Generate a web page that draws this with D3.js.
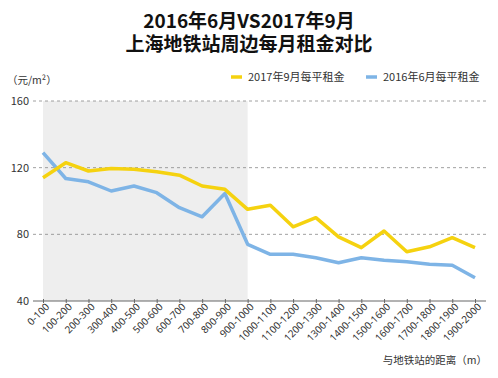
<!DOCTYPE html>
<html>
<head>
<meta charset="utf-8">
<script src="https://cdn.jsdelivr.net/npm/d3@7"></script>
<style>
  body { margin: 0; background: #fff; }
  svg { display: block; font-family: "Noto Sans CJK SC", "Noto Sans", sans-serif; }
</style>
</head>
<body>
<svg id="chart" width="498" height="378"></svg>
<script>
// 距离分组
const categories = ["0-100", "100-200", "200-300", "300-400", "400-500", "500-600", "600-700",
  "700-800", "800-900", "900-1000", "1000-1100", "1100-1200", "1200-1300", "1300-1400",
  "1400-1500", "1500-1600", "1600-1700", "1700-1800", "1800-1900", "1900-2000"];

// 2017年9月每平租金
const rent2017 = [114, 123, 118, 119.5, 119, 117.5, 115.5, 109, 107, 95,
  97.5, 84.5, 90, 78.5, 72, 82, 69.5, 72.5, 78, 72];

// 2016年6月每平租金
const rent2016 = [129, 113.5, 111.5, 106, 109, 105, 96, 90.5, 104.5, 74,
  68, 68, 66, 63, 66, 64.5, 63.5, 62, 61.5, 54];

const yTicks = [40, 80, 120, 160];
const shadeEnd = "900-1000";
const titleLines = ["2016年6月VS2017年9月", "上海地铁站周边每月租金对比"];

const svg = d3.select("#chart");
const plotLeft = 33, plotRight = 486, plotTop = 101, plotBottom = 301;

const x = d3.scalePoint().domain(categories).range([43, 475]);
const y = d3.scaleLinear().domain([40, 160]).range([plotBottom, plotTop]);

// 标题（两行放在同一个text里）
const title = svg.append("text")
  .attr("x", 249).attr("y", 28)
  .attr("text-anchor", "middle")
  .style("font-size", "19px").style("font-weight", "bold").attr("fill", "#111");
title.selectAll("tspan")
  .data(titleLines)
  .enter()
  .append("tspan")
  .attr("x", 249)
  .attr("dy", (d, i) => (i === 0 ? 0 : 23))
  .text((d) => d);

// 灰色背景区域
svg.append("rect")
  .attr("x", x(categories[0]))
  .attr("y", y(160))
  .attr("width", x(shadeEnd) - x(categories[0]))
  .attr("height", y(40) - y(160))
  .attr("fill", "#eeeeee");

// 网格线
svg.append("g")
  .selectAll("line")
  .data(yTicks.filter((d) => d > 40))
  .enter()
  .append("line")
  .attr("x1", plotLeft).attr("x2", plotRight)
  .attr("y1", (d) => y(d)).attr("y2", (d) => y(d))
  .attr("stroke", "#888")
  .attr("stroke-width", 0.8)
  .attr("stroke-dasharray", "3,3");

// y轴标签
svg.append("g")
  .selectAll("text")
  .data(yTicks)
  .enter()
  .append("text")
  .attr("x", 29)
  .attr("y", (d) => y(d) + 4)
  .attr("text-anchor", "end")
  .style("font-size", "11px")
  .attr("fill", "#333")
  .text((d) => d);

svg.append("text")
  .attr("x", 7).attr("y", 84)
  .style("font-size", "10.5px").attr("fill", "#333")
  .text("（元/m²）");

// x轴
const xAxis = svg.append("g")
  .attr("transform", `translate(0,${plotBottom})`)
  .call(d3.axisBottom(x).tickSize(4).tickSizeOuter(0).tickPadding(3));
xAxis.select(".domain").remove();
xAxis.insert("line", ":first-child")
  .attr("x1", plotLeft).attr("x2", plotRight)
  .attr("stroke", "#666").attr("stroke-width", 1);
xAxis.selectAll(".tick line").attr("stroke", "#666").attr("y1", -2).attr("y2", 2);
xAxis.selectAll(".tick text")
  .attr("text-anchor", "end")
  .attr("transform", "translate(4,4) rotate(-45)")
  .attr("dy", "0.35em")
  .attr("y", 0)
  .attr("x", 0)
  .style("font-size", "10px")
  .style("font-family", "'Noto Sans', sans-serif")
  .attr("fill", "#333");

svg.append("text")
  .attr("x", 487).attr("y", 364)
  .attr("text-anchor", "end")
  .style("font-size", "10.5px").attr("fill", "#333")
  .text("与地铁站的距离（m）");

// 折线
const line = d3.line()
  .x((d, i) => x(categories[i]))
  .y((d) => y(d));

const series = [
  { name: "2017年9月每平租金", values: rent2017, color: "#f5d20f" },
  { name: "2016年6月每平租金", values: rent2016, color: "#7eb4e6" },
];

svg.selectAll(".series")
  .data(series.slice().reverse())
  .enter()
  .append("path")
  .attr("class", "series")
  .attr("d", (d) => line(d.values))
  .attr("fill", "none")
  .attr("stroke", (d) => d.color)
  .attr("stroke-width", 3.5)
  .attr("stroke-linejoin", "round");

// 图例
const legendX = [231, 366];
series.forEach((s, i) => {
  svg.append("line")
    .attr("x1", legendX[i]).attr("x2", legendX[i] + 11)
    .attr("y1", 77).attr("y2", 77)
    .attr("stroke", s.color).attr("stroke-width", 3.5);
  svg.append("text")
    .attr("x", legendX[i] + 17).attr("y", 81)
    .style("font-size", "11px").attr("fill", "#333")
    .text(s.name);
});
</script>
</body>
</html>
